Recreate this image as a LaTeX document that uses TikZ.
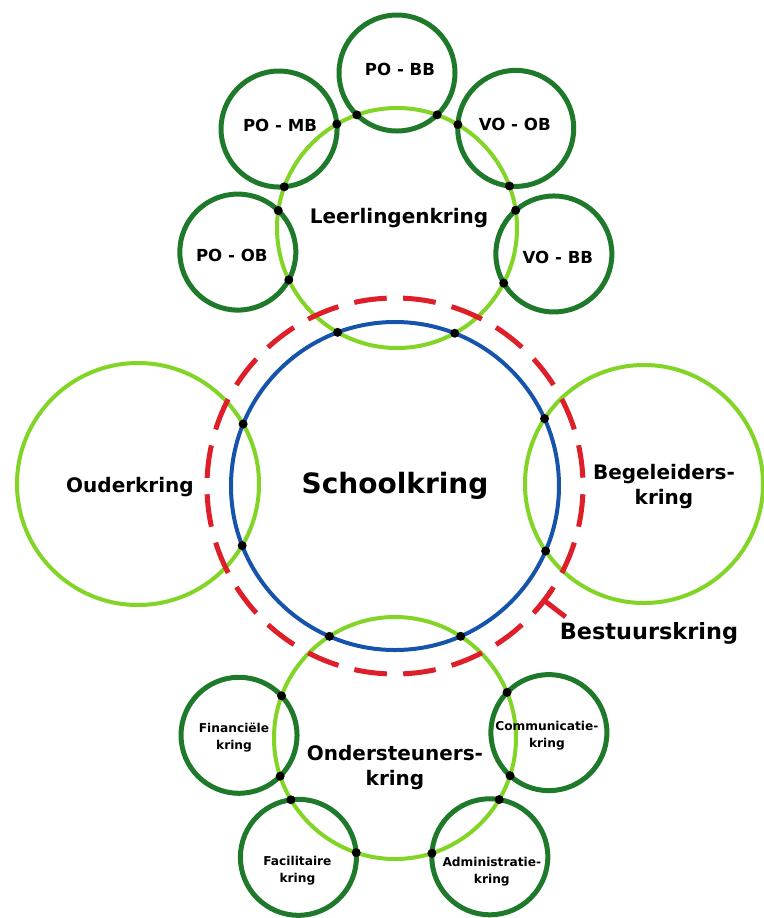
\documentclass[tikz,border=0pt]{standalone}
\usepackage{fontspec}
\setmainfont{DejaVu Sans}
\usetikzlibrary{intersections}
\definecolor{lichtgroen}{RGB}{130,212,38}
\definecolor{donkergroen}{RGB}{30,122,42}
\definecolor{schoolblauw}{RGB}{22,84,172}
\definecolor{bestuursrood}{RGB}{222,30,40}
\tikzset{
  kring/.style={draw=lichtgroen, line width=2pt}, % the light green circles
  subkring/.style={draw=donkergroen, line width=2.5pt}, % the small dark green circles
  schoolring/.style={draw=schoolblauw, line width=2pt},
  bestuur/.style={draw=bestuursrood, line width=2.5pt},
  knoop/.style={fill=black}, % the black dots where two circles cross
  groot/.style={font=\bfseries\fontsize{14}{16}\selectfont},
  middel/.style={font=\bfseries\fontsize{10}{12.5}\selectfont, align=center},
  klein/.style={font=\bfseries\fontsize{8.3}{10}\selectfont},
  mini/.style={font=\bfseries\fontsize{6.1}{8.5}\selectfont, align=center},
}
\begin{document}
\begin{tikzpicture}[x=0.5pt, y=-0.5pt]
  \useasboundingbox (0,0) rectangle (764,918);

  % centres of the big circles
  \coordinate (m) at (395,486);
  \coordinate (leer) at (397,228);
  \coordinate (ouder) at (138,484);
  \coordinate (begel) at (644,484);
  \coordinate (onder) at (395,738);

  % light green circles
  \draw[kring, name path=leerP] (leer) circle[radius=120];
  \draw[kring, name path=ouderP] (ouder) circle[radius=121];
  \draw[kring, name path=begelP] (begel) circle[radius=119];
  \draw[kring, name path=onderP] (onder) circle[radius=121];

  % small circles round the Leerlingenkring
  \foreach \a/\r/\dx/\dy/\n/\t in {270/155/3/-4/pobb/{PO - BB}, 220/154/1/-4/pomb/{PO - MB},
                                  320/155/-1/-4/vool/{VO - OB}, 171.4/161/-6/3/pool/{PO - OB},
                                  9.4/159/4/3/vobb/{VO - BB}} {
    \coordinate (\n c) at ([shift={(\a:\r)}]leer);
    \draw[subkring, name path global=\n P] (\n c) circle[radius=58];
    \node[klein] (\n) at ([shift={(\dx,\dy)}]\n c) {\t};
  }

  % small circles round the Ondersteunerskring
  \foreach \a/\r/\dx/\dy/\n/\t in {181/156/-5/2/fin/{Financiële\\kring}, 358/154/-2/3/com/{Communicatie-\\kring},
                                  129/153.5/-1/13/fac/{Facilitaire\\kring}, 51.4/152/2/15/adm/{Administratie-\\kring}} {
    \coordinate (\n c) at ([shift={(\a:\r)}]onder);
    \draw[subkring, name path global=\n P] (\n c) circle[radius=58];
    \node[mini] (\n) at ([shift={(\dx,\dy)}]\n c) {\t};
  }

  % school and board
  \draw[schoolring, name path=schoolP] (m) circle[radius=164];
  \draw[bestuur, dash pattern=on 16.4pt off 8.21pt, dash phase=20.5pt] (m) circle[radius=188];

  % labels
  \node[groot] (school) at (m) {Schoolkring};
  \node[middel] (leerl) at (399,218) {Leerlingenkring};
  \node[middel] (ouderl) at (130,487) {Ouderkring};
  \node[middel] (begell) at (664,487) {Begeleiders-\\kring};
  \node[middel] (onderl) at (395,768) {Ondersteuners-\\kring};
  \node[middel, font=\bfseries\fontsize{11.2}{13}\selectfont] (best) at (649,633) {Bestuurskring};

  % the T that marks the Bestuurskring
  \coordinate (tick) at ([shift={(37.5:188)}]m);
  \draw[bestuur] ([shift={(33.5:188)}]m) arc[start angle=33.5, end angle=41.5, radius=188];
  \draw[bestuur] (tick) -- ([shift={(37.5:215)}]m);

  % dots
  \foreach \p/\q in {leerP/schoolP, ouderP/schoolP, begelP/schoolP, onderP/schoolP,
                     leerP/pobbP, leerP/pombP, leerP/voolP, leerP/poolP, leerP/vobbP,
                     onderP/finP, onderP/comP, onderP/facP, onderP/admP}
    \fill[knoop, name intersections={of={\p} and {\q}, name=i}]
      (i-1) circle[radius=4.5] (i-2) circle[radius=4.5];
\end{tikzpicture}
\end{document}
